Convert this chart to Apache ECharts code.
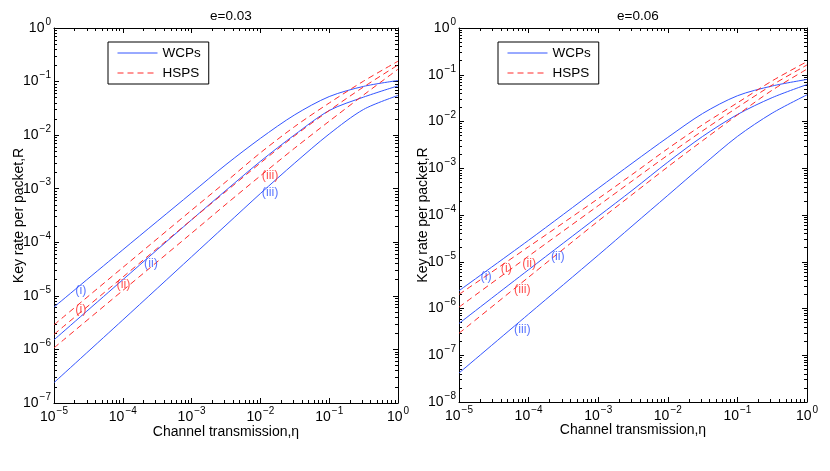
<!DOCTYPE html>
<html><head><meta charset="utf-8">
<script src="https://cdn.jsdelivr.net/npm/echarts@6/dist/echarts.min.js"></script>
<style>html,body{margin:0;padding:0;background:#fff}#c{width:830px;height:471px}</style>
</head><body><div id="c"></div>
<script>
// ---- data ----
const eta = [1e-5, 1e-4, 1e-3, 3.16e-3, 1e-2, 3.16e-2, 1e-1, 3.16e-1, 1];

// Left panel, e=0.03
const leftWCP_i   = [6.17e-6, 7.24e-5, 8.32e-4, 2.82e-3, 8.71e-3, 2.40e-2, 5.25e-2, 8.13e-2, 1.047e-1];
const leftWCP_ii  = [1.51e-6, 2.00e-5, 2.63e-4, 9.33e-4, 3.24e-3, 1.02e-2, 2.88e-2, 5.13e-2, 8.32e-2];
const leftWCP_iii = [2.40e-7, 3.55e-6, 5.37e-5, 2.09e-4, 8.13e-4, 3.02e-3, 1.05e-2, 3.02e-2, 5.50e-2];
const leftHSPS_i   = [2.88e-6, 3.39e-5, 3.98e-4, 1.35e-3, 4.68e-3, 1.45e-2, 3.98e-2, 1.02e-1, 2.40e-1];
const leftHSPS_ii  = [1.91e-6, 2.24e-5, 2.63e-4, 8.91e-4, 3.02e-3, 9.77e-3, 2.88e-2, 7.94e-2, 2.04e-1];
const leftHSPS_iii = [1.07e-6, 1.26e-5, 1.48e-4, 5.13e-4, 1.74e-3, 5.75e-3, 1.82e-2, 5.62e-2, 1.70e-1];

// Right panel, e=0.06
const rightWCP_i   = [2.40e-6, 2.88e-5, 3.72e-4, 1.32e-3, 4.57e-3, 1.48e-2, 3.55e-2, 5.75e-2, 7.94e-2];
const rightWCP_ii  = [4.79e-7, 6.76e-6, 9.33e-5, 3.47e-4, 1.35e-3, 4.79e-3, 1.41e-2, 3.24e-2, 6.17e-2];
const rightWCP_iii = [4.17e-8, 7.59e-7, 1.38e-5, 6.03e-5, 2.63e-4, 1.15e-3, 4.79e-3, 1.51e-2, 3.72e-2];
const rightHSPS_i   = [2.00e-6, 2.09e-5, 2.24e-4, 7.59e-4, 2.63e-3, 8.51e-3, 2.51e-2, 7.41e-2, 1.91e-1];
const rightHSPS_ii  = [1.07e-6, 1.32e-5, 1.58e-4, 5.50e-4, 1.91e-3, 6.31e-3, 2.00e-2, 6.03e-2, 1.62e-1];
const rightHSPS_iii = [2.95e-7, 4.68e-6, 7.41e-5, 2.82e-4, 1.07e-3, 3.89e-3, 1.38e-2, 4.68e-2, 1.32e-1];

// curve annotations: [eta, R, text]
const leftBlueLabels  = [[2.04e-5, 1.23e-5, '(i)'], [2.04e-4, 3.98e-5, '(ii)'], [1.05e-2, 8.32e-4, '(iii)']];
const leftRedLabels   = [[2.04e-5, 5.50e-6, '(i)'], [8.13e-5, 1.62e-5, '(ii)'], [1.05e-2, 1.78e-3, '(iii)']];
const rightBlueLabels = [[2.04e-5, 4.90e-6, '(i)'], [2.09e-4, 1.32e-5, '(ii)'], [6.17e-5, 3.55e-7, '(iii)']];
const rightRedLabels  = [[3.98e-5, 7.24e-6, '(i)'], [8.13e-5, 9.12e-6, '(ii)'], [6.17e-5, 2.57e-6, '(iii)']];

// ticks and texts
const xTicks = [1e-5, 1e-4, 1e-3, 1e-2, 1e-1, 1];
const yTicksLeft = [1e-7, 1e-6, 1e-5, 1e-4, 1e-3, 1e-2, 1e-1, 1];
const yTicksRight = [1e-8, 1e-7, 1e-6, 1e-5, 1e-4, 1e-3, 1e-2, 1e-1, 1];
const titles = ['e=0.03', 'e=0.06'];
const xName = 'Channel transmission,η';
const yName = 'Key rate per packet,R';
const seriesNames = ['WCPs', 'HSPS'];

// ---- styling / layout ----
const FONT = '"Liberation Sans", Arial, Helvetica, sans-serif';
const BLUE = '#3355ff';
const RED = '#ff2a2a';
const grids = [
  {left: 54, top: 28, width: 344, height: 375},
  {left: 459, top: 28, width: 348, height: 374}
];

function minorOf(majors) {
  const out = [];
  for (let i = 0; i < majors.length - 1; i++) {
    for (let k = 2; k <= 9; k++) out.push(+(majors[i] * k).toPrecision(4));
  }
  return out;
}
function fmt(v) {
  const e = Math.round(Math.log10(v));
  return '{b|10}{s|' + (e < 0 ? '\u2212' + (-e) : e) + '}';
}
const rich = {
  b: {fontSize: 14, fontFamily: FONT, color: '#000'},
  s: {fontSize: 10, fontFamily: FONT, color: '#000', padding: [0, 0, 12, 1]}
};

const xAxis = [], yAxis = [];
function addAxes(list, g, pos, majors, withLabel, extra) {
  const base = {
    type: 'log', logBase: 10, gridIndex: g,
    min: majors[0], max: majors[majors.length - 1],
    position: pos, splitLine: {show: false}, minorTick: {show: false},
    axisLine: {show: true, lineStyle: {color: '#000', width: 1}},
    axisTick: {show: true, inside: true, length: 5, customValues: majors, lineStyle: {color: '#000'}},
    axisLabel: withLabel ? {show: true, customValues: majors, formatter: fmt, rich: rich, margin: 3} : {show: false}
  };
  list.push(Object.assign(base, extra || {}));
  list.push({
    type: 'log', logBase: 10, gridIndex: g,
    min: majors[0], max: majors[majors.length - 1],
    position: pos, splitLine: {show: false},
    axisLine: {show: false},
    axisTick: {show: true, inside: true, length: 3, customValues: minorOf(majors), lineStyle: {color: '#000'}},
    axisLabel: {show: false}
  });
}
xAxis.push(null, null); yAxis.push(null, null);
const tmpX = [], tmpY = [];
[0, 1].forEach(g => {
  const yt = g === 0 ? yTicksLeft : yTicksRight;
  const xs = [], ys = [];
  addAxes(xs, g, 'bottom', xTicks, true, {
    name: xName, nameLocation: 'middle', nameGap: g === 0 ? 22 : 21, nameMoveOverlap: false,
    nameTextStyle: {fontSize: 14, fontFamily: FONT, color: '#000'}
  });
  addAxes(ys, g, 'left', yt, true, {
    name: yName, nameLocation: 'middle', nameGap: g === 0 ? 28 : 29, nameMoveOverlap: false,
    nameTextStyle: {fontSize: 14, fontFamily: FONT, color: '#000'}
  });
  xAxis[g] = xs[0]; yAxis[g] = ys[0];
  tmpX.push(xs[1]); tmpY.push(ys[1]);
  const xs2 = [], ys2 = [];
  addAxes(xs2, g, 'top', xTicks, false);
  addAxes(ys2, g, 'right', yt, false);
  tmpX.push(xs2[0], xs2[1]); tmpY.push(ys2[0], ys2[1]);
});
xAxis.push(...tmpX); yAxis.push(...tmpY);

function zip(y) { return eta.map((x, i) => [x, y[i]]); }
function lineSeries(g, name, y, dashed) {
  return {
    type: 'line', name: name, xAxisIndex: g, yAxisIndex: g,
    data: zip(y), showSymbol: false, symbol: 'none', smooth: 0.3,
    lineStyle: {color: dashed ? RED : BLUE, width: 1, type: dashed ? [6, 4] : 'solid'},
    itemStyle: {color: dashed ? RED : BLUE},
    silent: true, z: dashed ? 3 : 2
  };
}
function labelSeries(g, data, color) {
  return {
    type: 'scatter', name: 'lbl', xAxisIndex: g, yAxisIndex: g, data: data,
    symbolSize: 0, silent: true, z: 5,
    label: {show: true, position: 'right', distance: 0, formatter: p => p.value[2],
      color: color, fontSize: 12.5, fontFamily: FONT}
  };
}
const series = [
  lineSeries(0, seriesNames[0], leftWCP_i, false),
  lineSeries(0, seriesNames[0], leftWCP_ii, false),
  lineSeries(0, seriesNames[0], leftWCP_iii, false),
  lineSeries(0, seriesNames[1], leftHSPS_i, true),
  lineSeries(0, seriesNames[1], leftHSPS_ii, true),
  lineSeries(0, seriesNames[1], leftHSPS_iii, true),
  lineSeries(1, seriesNames[0], rightWCP_i, false),
  lineSeries(1, seriesNames[0], rightWCP_ii, false),
  lineSeries(1, seriesNames[0], rightWCP_iii, false),
  lineSeries(1, seriesNames[1], rightHSPS_i, true),
  lineSeries(1, seriesNames[1], rightHSPS_ii, true),
  lineSeries(1, seriesNames[1], rightHSPS_iii, true),
  labelSeries(0, leftBlueLabels, BLUE),
  labelSeries(0, leftRedLabels, RED),
  labelSeries(1, rightBlueLabels, BLUE),
  labelSeries(1, rightRedLabels, RED)
];

function legendAt(left) {
  return {
    data: seriesNames, left: left, top: 42, orient: 'vertical',
    itemWidth: 40, itemHeight: 14, itemGap: 6, padding: [4, 8, 4, 9],
    borderColor: '#000', borderWidth: 1, backgroundColor: '#fff',
    selectedMode: false,
    itemStyle: {color: 'rgba(0,0,0,0)', borderWidth: 0, opacity: 0},
    lineStyle: {width: 1},
    textStyle: {fontSize: 13.5, fontFamily: FONT, color: '#000'}
  };
}

const chart = echarts.init(document.getElementById('c'), null, {renderer: 'canvas'});
chart.setOption({
  animation: false,
  backgroundColor: '#fff',
  title: [
    {text: titles[0], left: 205, top: 4, textStyle: {fontSize: 13.5, fontWeight: 'normal', fontFamily: FONT, color: '#000'}},
    {text: titles[1], left: 612, top: 4, textStyle: {fontSize: 13.5, fontWeight: 'normal', fontFamily: FONT, color: '#000'}}
  ],
  legend: [legendAt(108), legendAt(498)],
  grid: grids,
  xAxis: xAxis,
  yAxis: yAxis,
  series: series
});
</script></body></html>
